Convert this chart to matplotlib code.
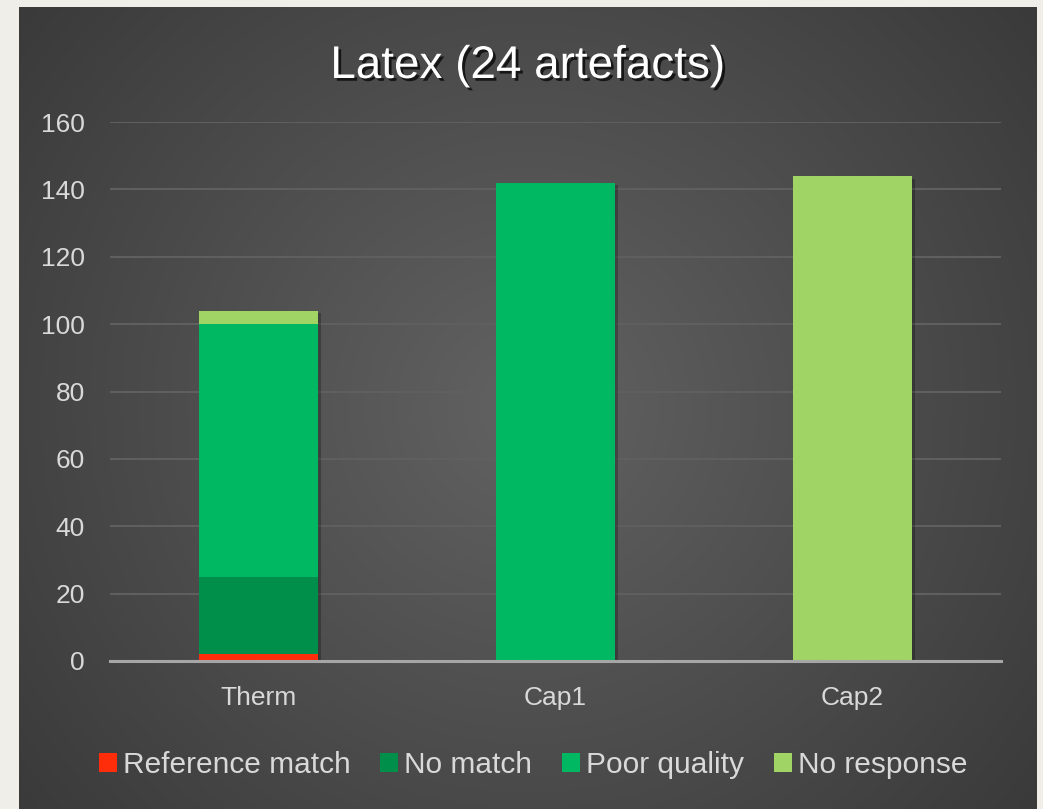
import numpy as np
import matplotlib.pyplot as plt
import matplotlib.patheffects as pe

# data
categories = ['Therm', 'Cap1', 'Cap2']
series_names = ['Reference match', 'No match', 'Poor quality', 'No response']
ref_match = [2, 0, 0]
no_match = [23, 0, 0]
poor_quality = [75, 142, 0]
no_response = [4, 0, 144]
colors = ['#ff2d0a', '#008f4a', '#00b861', '#a0d465']

plt.rcParams['font.family'] = ['Liberation Sans', 'DejaVu Sans']

fig = plt.figure(figsize=(10.43, 8.09), dpi=100, facecolor='#efeee9')

# dark panel with radial gradient
bg = fig.add_axes([19 / 1043, 0, (1037 - 19) / 1043, (809 - 7) / 809])
yy, xx = np.mgrid[0:1:400j, 0:1:500j]
r = np.sqrt(((xx - 0.5) * 1.0) ** 2 + ((yy - 0.5) * 0.8) ** 2) / 0.64
r = np.clip(r, 0, 1)
lo, hi = 0x3a / 255, 0x62 / 255
g = hi - (hi - lo) * r
bg.imshow(np.dstack([g, g, g]), aspect='auto', extent=[0, 1, 0, 1])
bg.set_axis_off()

ax = fig.add_axes([110 / 1043, 148 / 809, 891 / 1043, 539 / 809])
ax.patch.set_alpha(0)
x = np.arange(len(categories))
stack = [ref_match, no_match, poor_quality, no_response]
totals = np.sum(stack, axis=0)

# soft shadow under the whole stack
shadow = [pe.SimplePatchShadow(offset=(2, -2), shadow_rgbFace='black', alpha=0.25)]
ax.bar(x, totals, 0.4, color='none', zorder=2, path_effects=shadow)

bottom = np.zeros(len(categories))
for name, vals, c in zip(series_names, stack, colors):
    ax.bar(x, vals, 0.4, bottom=bottom, color=c, label=name, zorder=3)
    bottom += np.array(vals)

ax.set_xlim(-0.5, 2.5)
ax.set_ylim(0, 160)
ax.set_yticks(range(0, 161, 20))
ax.set_xticks(x)
ax.set_xticklabels(categories)
ax.grid(axis='y', color='#5f5f5f', linewidth=1.5, zorder=0)
ax.tick_params(length=0, colors='#d9d9d9', labelsize=19)
ax.tick_params(axis='y', pad=18)
ax.tick_params(axis='x', pad=18)
for s in ['top', 'right', 'left']:
    ax.spines[s].set_visible(False)
ax.spines['bottom'].set_color('#a6a6a6')
ax.spines['bottom'].set_linewidth(2.2)
ax.spines['bottom'].set_zorder(4)

fig.text(528 / 1043, 743 / 809, 'Latex (24 artefacts)', ha='center', va='center',
         fontsize=33, color='white',
         path_effects=[pe.withSimplePatchShadow(offset=(2, -2), shadow_rgbFace='black', alpha=0.7)])

leg = fig.legend(loc='center', bbox_to_anchor=(533 / 1043, 44 / 809), ncol=4, frameon=False,
                 fontsize=21.5, handlelength=0.6, handleheight=0.6, handletextpad=0.2,
                 columnspacing=1.0, labelcolor='#d9d9d9')

fig.savefig('out.png', dpi=100, facecolor=fig.get_facecolor())
